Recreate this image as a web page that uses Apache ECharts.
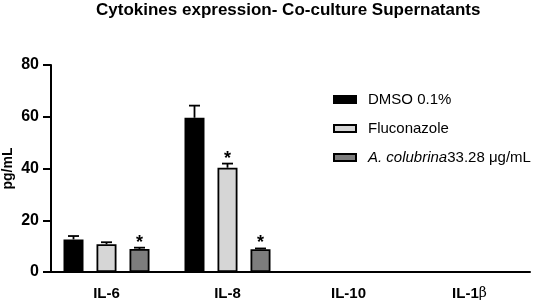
<!DOCTYPE html>
<html>
<head>
<meta charset="utf-8">
<script src="https://cdn.jsdelivr.net/npm/echarts@6/dist/echarts.min.js"></script>
<style>
html, body { margin: 0; padding: 0; background: #fff; }
#bar { width: 533px; height: 305px; }
</style>
</head>
<body>
<div id="bar"></div>
<script>
var categories = ['IL-6', 'IL-8', 'IL-10', 'IL-1β'];
var yTicks = [0, 20, 40, 60, 80];

var seriesNames = ['DMSO 0.1%', 'Fluconazole', 'A. colubrina33.28 μg/mL'];
var dmso = [12.6, 59.6, null, null];
var dmsoErr = [1.3, 4.7, null, null];
var fluconazole = [10.7, 40.3, null, null];
var fluconazoleErr = [0.8, 1.6, null, null];
var colubrina = [8.9, 8.8, null, null];
var colubrinaErr = [0.5, 0.3, null, null];
// 显著性标记 (*)
var dmsoSig = [0, 0, 0, 0];
var fluconazoleSig = [0, 1, 0, 0];
var colubrinaSig = [1, 1, 0, 0];

var colors = ['#000000', '#d6d6d6', '#7d7d7d'];
var barW = 20;
var barGap = 0.65;
var font = 'Liberation Sans, Arial, sans-serif';

var groups = [
    [dmso, dmsoErr, dmsoSig],
    [fluconazole, fluconazoleErr, fluconazoleSig],
    [colubrina, colubrinaErr, colubrinaSig]
];

function errData(g) {
    var out = [];
    for (var i = 0; i < categories.length; i++) {
        if (g[0][i] == null) continue;
        out.push([i, g[0][i], g[1][i], g[2][i]]);
    }
    return out;
}

function makeErr(k) {
    var off = (k - 1) * barW * (1 + barGap);
    return function (params, api) {
        var ci = api.value(0), v = api.value(1), e = api.value(2), s = api.value(3);
        var base = api.coord([ci, v]);
        var top = api.coord([ci, v + e]);
        var x = base[0] + off;
        var style = { stroke: '#000', lineWidth: 1.8 };
        var kids = [
            { type: 'line', shape: { x1: x, y1: base[1], x2: x, y2: top[1] }, style: style },
            { type: 'line', shape: { x1: x - 5.5, y1: top[1], x2: x + 5.5, y2: top[1] }, style: style }
        ];
        if (s) {
            kids.push({
                type: 'text',
                style: {
                    text: '*', x: x, y: top[1] + 4, align: 'center', verticalAlign: 'bottom',
                    font: 'bold 18px ' + font, fill: '#000'
                }
            });
        }
        return { type: 'group', children: kids };
    };
}

var series = [];
groups.forEach(function (g, k) {
    series.push({
        name: seriesNames[k],
        type: 'bar',
        data: g[0],
        barWidth: barW,
        barGap: (barGap * 100) + '%',
        itemStyle: { color: colors[k], borderColor: '#000', borderWidth: 1.8 },
        z: 2
    });
});
groups.forEach(function (g, k) {
    series.push({
        type: 'custom',
        renderItem: makeErr(k),
        data: errData(g),
        encode: { x: 0, y: 1 },
        z: 3,
        silent: true
    });
});

var myChart = echarts.init(document.getElementById('bar'));
myChart.setOption({
    animation: false,
    title: {
        text: 'Cytokines expression- Co-culture Supernatants',
        left: 96,
        top: 2,
        padding: 0,
        textStyle: { fontFamily: font, fontWeight: 'bold', fontSize: 17, color: '#000' }
    },
    legend: {
        data: seriesNames,
        orient: 'vertical',
        left: 328,
        top: 87,
        itemWidth: 22,
        itemHeight: 7,
        itemGap: 14,
        icon: 'rect',
        formatter: function (name) {
            if (name.indexOf('A. colubrina') === 0) {
                return '{i|A. colubrina}' + name.slice(12);
            }
            return name;
        },
        textStyle: {
            fontFamily: font, fontSize: 15, color: '#000', padding: [0, 0, 0, 7],
            rich: { i: { fontFamily: font, fontSize: 15, fontStyle: 'italic', color: '#000' } }
        }
    },
    grid: { left: 46, right: 3, top: 65, bottom: 33, outerBoundsMode: 'none', containLabel: false },
    xAxis: {
        type: 'category',
        data: categories,
        axisLine: { lineStyle: { color: '#000', width: 2 } },
        axisTick: { alignWithLabel: true, length: 6, lineStyle: { color: '#000', width: 2 } },
        axisLabel: {
            margin: 14,
            fontFamily: font, fontWeight: 'bold', fontSize: 15, color: '#000',
            formatter: function (v) {
                if (v.indexOf('β') >= 0) return v.replace('β', '') + '{b|β}';
                return v;
            },
            rich: { b: { fontFamily: 'DejaVu Serif', fontWeight: 'normal', fontSize: 14, color: '#000' } }
        }
    },
    yAxis: {
        type: 'value',
        min: yTicks[0],
        max: yTicks[yTicks.length - 1],
        interval: 20,
        offset: -5,
        name: 'pg/mL',
        nameLocation: 'middle',
        nameGap: 36,
        nameMoveOverlap: false,
        nameTextStyle: { fontFamily: font, fontWeight: 'bold', fontSize: 14, color: '#000' },
        splitLine: { show: false },
        axisLine: { show: true, lineStyle: { color: '#000', width: 2 } },
        axisTick: { show: true, length: 8, lineStyle: { color: '#000', width: 2 } },
        axisLabel: { margin: 12, fontFamily: font, fontWeight: 'bold', fontSize: 16, color: '#000' }
    },
    series: series
});
</script>
</body>
</html>
